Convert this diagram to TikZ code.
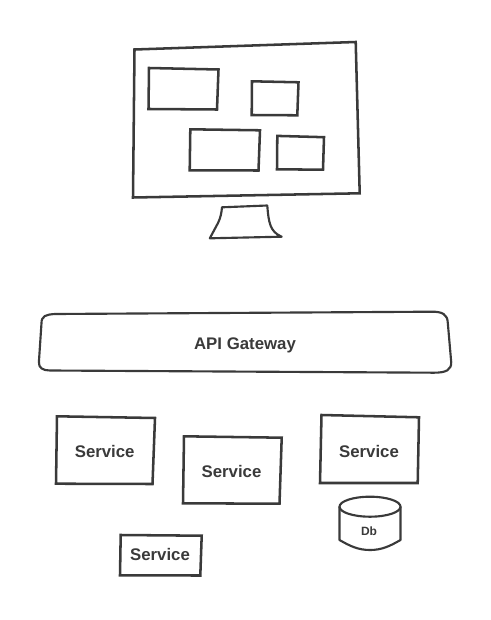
\documentclass[tikz,border=0pt]{standalone}
\usepackage{fontspec}
\setmainfont{Liberation Sans}
\definecolor{sketchgray}{HTML}{3A3A3A}
\tikzset{
	sketch/.style={line width=1.9pt, color=sketchgray, line join=miter},
	thinsketch/.style={line width=1.6pt, color=sketchgray, line join=round},
	label/.style={text=sketchgray, font=\bfseries\fontsize{12.6}{14}\selectfont, inner sep=0pt},
	smalllabel/.style={text=sketchgray, font=\bfseries\fontsize{9}{11}\selectfont, inner sep=0pt}
}

\begin{document}
\begin{tikzpicture}[x=0.75pt, y=-0.75pt]
	\useasboundingbox (0, 0) rectangle (490, 620);
	
	%%%%% MONITOR %%%%%
	\draw[sketch] (134.5, 49.5) -- (355.7, 42) -- (359.7, 193.3) -- (133, 197.5) -- cycle;
	
	\draw[sketch] (149, 68) -- (218.5, 69.5) -- (217, 109.5) -- (148.5, 109) -- cycle;
	\draw[sketch] (252, 81.3) -- (298.5, 82.3) -- (297.3, 115.3) -- (251.7, 115) -- cycle;
	\draw[sketch] (190.3, 129.3) -- (260, 130.3) -- (258.5, 170.5) -- (189.7, 170.3) -- cycle;
	\draw[sketch] (277.3, 135.9) -- (324, 137.2) -- (323, 169.7) -- (277, 169.3) -- cycle;
	
	\draw[thinsketch] (222, 207.3) -- (267.3, 205.5) .. controls (268.5, 222) and (270, 232) .. (281.7, 236.7) -- (209.8, 238.3) -- (218, 223) .. controls (220.5, 218) and (221.5, 213) .. cycle;
	
	%%%%% GATEWAY %%%%%
	\draw[thinsketch] (41.5, 323) .. controls (41.5, 316) and (46, 314.5) .. (55, 314) -- (432, 311.7) .. controls (442, 311.7) and (447.5, 314) .. (447.8, 323) -- (451.2, 362) .. controls (451.5, 370) and (446, 372.7) .. (434, 372.7) -- (50, 370.5) .. controls (43, 370.5) and (38.5, 368) .. (38.9, 362) -- cycle;
	\node[label] (gateway) at (245, 345) {API Gateway};
	
	%%%%% SERVICES %%%%%
	\draw[sketch] (57, 416.3) -- (155, 418) -- (152.5, 484) -- (56, 483.7) -- cycle;
	\node[label] (service1) at (104.7, 451.5) {Service};
	
	\draw[sketch] (184, 436.3) -- (281.7, 437.7) -- (279.5, 503.7) -- (183, 503.3) -- cycle;
	\node[label] (service2) at (231.5, 471.5) {Service};
	
	\draw[sketch] (321.5, 415) -- (419, 417.3) -- (417.7, 483) -- (320, 483) -- cycle;
	\node[label] (service3) at (369, 451) {Service};
	
	\draw[sketch] (120.7, 535) -- (201.7, 535.7) -- (200.3, 575.5) -- (120, 575.3) -- cycle;
	\node[label] (service4) at (160, 554.5) {Service};
	
	%%%%% DB %%%%%
	\draw[thinsketch] (370, 506.7) ellipse (30.5 and 10);
	\draw[thinsketch] (339.5, 506.7) -- (339.5, 540) .. controls (350, 546) and (358, 550) .. (370, 550) .. controls (382, 550) and (390, 546) .. (400.5, 540) -- (400.5, 506.7);
	\node[smalllabel] (db) at (369, 531) {Db};
\end{tikzpicture}
\end{document}
